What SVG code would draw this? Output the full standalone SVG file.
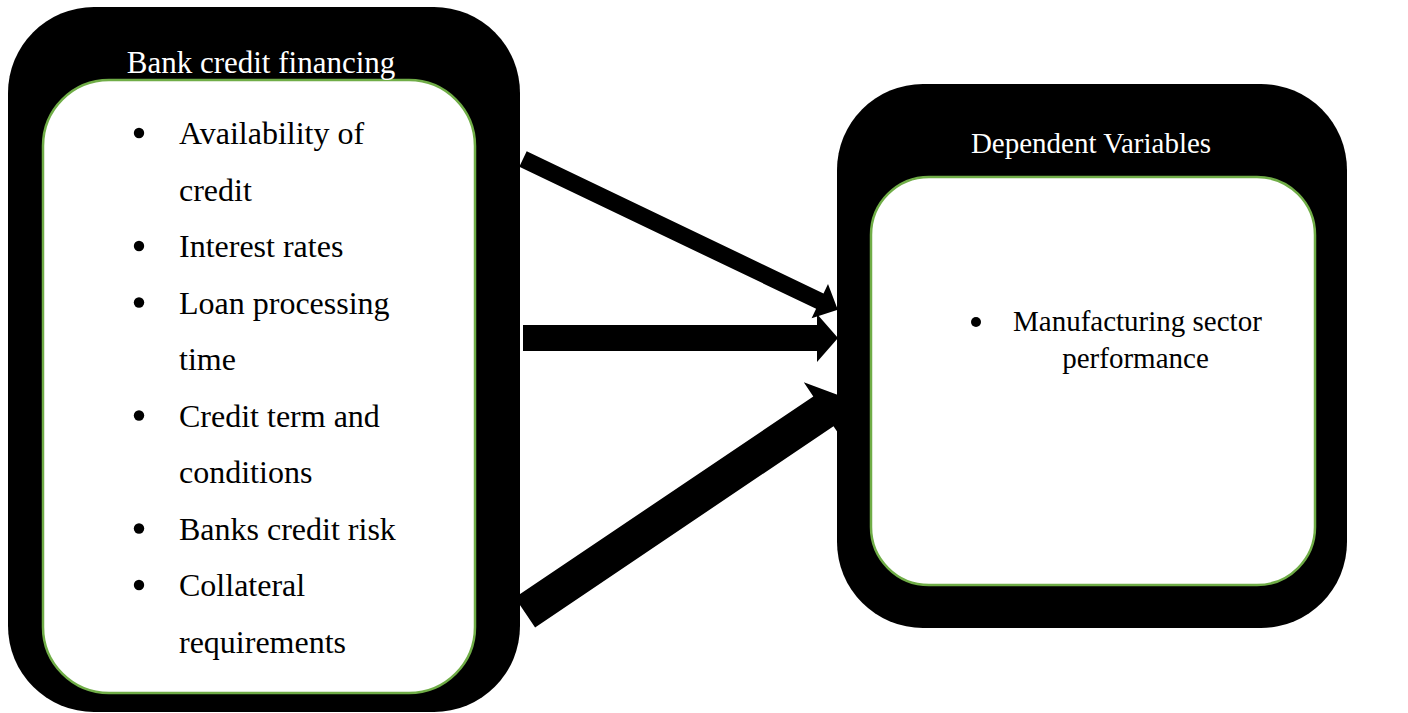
<svg xmlns="http://www.w3.org/2000/svg" width="1408" height="713" viewBox="0 0 1408 713">
<style>
.outer{fill:#000}
.inner{fill:#fff;stroke:#70AD47;stroke-width:2.5}
.title{font-family:"Liberation Serif","Times New Roman",serif;fill:#fff;text-anchor:middle}
.item{font-family:"Liberation Serif","Times New Roman",serif;fill:#000;font-size:32px}
.ritem{font-family:"Liberation Serif","Times New Roman",serif;fill:#000;font-size:29px}
.dot{fill:#000}
.arrow{fill:#000}
</style>
<rect width="1408" height="713" fill="#fff"/>
<g id="node-bank-credit-financing">
<rect class="outer" x="8" y="7" width="512" height="705" rx="86" ry="86"/>
<rect class="inner" x="43" y="80" width="432" height="613" rx="66" ry="66"/>
<text class="title" x="261" y="73" font-size="31">Bank credit financing</text>
<circle class="dot" cx="139" cy="133" r="5.2"/>
<text class="item" x="179" y="144">Availability of</text>
<text class="item" x="179" y="200.5">credit</text>
<circle class="dot" cx="139" cy="246" r="5.2"/>
<text class="item" x="179" y="257">Interest rates</text>
<circle class="dot" cx="139" cy="302.5" r="5.2"/>
<text class="item" x="179" y="313.5">Loan processing</text>
<text class="item" x="179" y="370">time</text>
<circle class="dot" cx="139" cy="415.5" r="5.2"/>
<text class="item" x="179" y="426.5">Credit term and</text>
<text class="item" x="179" y="483">conditions</text>
<circle class="dot" cx="139" cy="528.5" r="5.2"/>
<text class="item" x="179" y="539.5">Banks credit risk</text>
<circle class="dot" cx="139" cy="585" r="5.2"/>
<text class="item" x="179" y="596">Collateral</text>
<text class="item" x="179" y="652.5">requirements</text>
</g>
<g id="node-dependent-variables">
<rect class="outer" x="837" y="84" width="510" height="544" rx="86" ry="86"/>
<rect class="inner" x="871" y="177" width="444" height="408" rx="58" ry="58"/>
<text class="title" x="1091" y="153" font-size="29">Dependent Variables</text>
<circle class="dot" cx="976" cy="322" r="5"/>
<text class="ritem" x="1013" y="331">Manufacturing sector</text>
<text class="ritem" x="1135.5" y="368" text-anchor="middle">performance</text>
</g>
<g id="connectors">
<polygon class="arrow" points="526.7,151.3 823.5,293.4 828.0,284.0 837.8,309.7 811.6,318.2 816.1,308.8 519.3,166.7"/>
<polygon class="arrow" points="523,325 817,325 817,314 838,338 817,362 817,351 523,351"/>
<polygon class="arrow" points="514.9,597.6 813.3,396.4 803.8,382.3 844.1,397.3 843.0,440.3 833.5,426.2 535.1,627.4"/>
</g>
</svg>
